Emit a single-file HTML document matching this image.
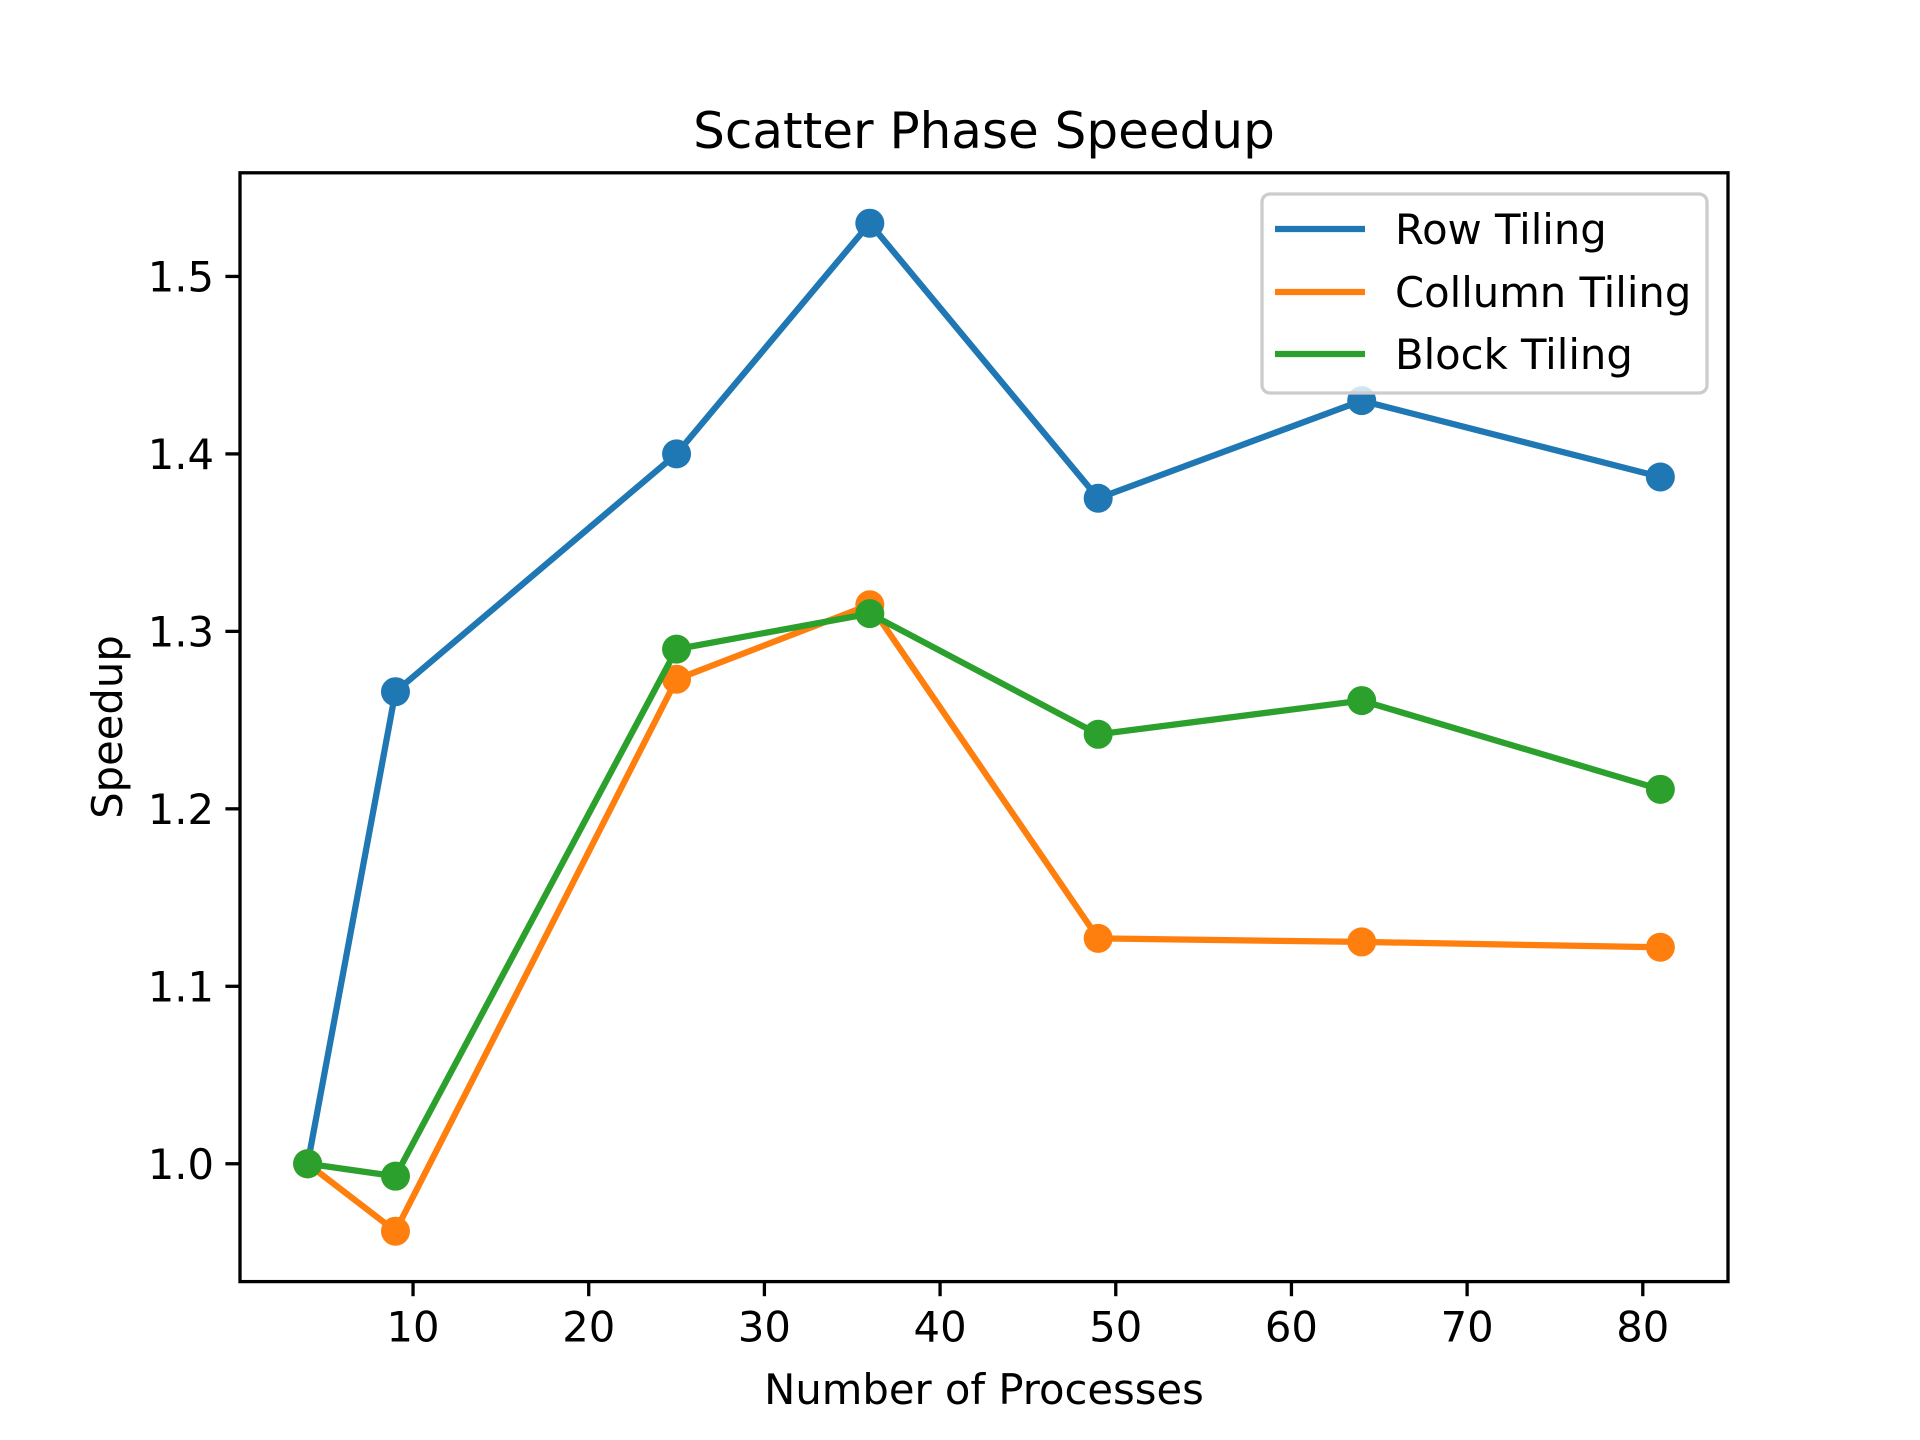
<!DOCTYPE html>
<html><head><meta charset="utf-8"><style>
html,body{margin:0;padding:0;background:#fff;}
svg{display:block;font-family:"DejaVu Sans","Liberation Sans",sans-serif;}
</style></head><body>
<svg id="chart" width="1920" height="1440" viewBox="0 0 1920 1440" xmlns="http://www.w3.org/2000/svg">
<rect width="1920" height="1440" fill="#fff"/>
<text x="984" y="148" font-size="50" text-anchor="middle">Scatter Phase Speedup</text>
<g id="plot"></g>
<rect x="240" y="172.8" width="1488" height="1108.8" fill="none" stroke="#000" stroke-width="3.3"/>
<text x="984" y="1404" font-size="41.7" text-anchor="middle">Number of Processes</text>
<text x="0" y="0" font-size="41.7" text-anchor="middle" transform="translate(122,727) rotate(-90)">Speedup</text>
<g>
<rect x="1262" y="194" width="445" height="199" rx="8" fill="#fff" fill-opacity="0.8" stroke="#ccc" stroke-width="3.3"/>
<line x1="1275" y1="229" x2="1365" y2="229" stroke="#1f77b4" stroke-width="6.25"/>
<text x="1395" y="244" font-size="41.7">Row Tiling</text>
<line x1="1275" y1="292" x2="1365" y2="292" stroke="#ff7f0e" stroke-width="6.25"/>
<text x="1395" y="307" font-size="41.7">Collumn Tiling</text>
<line x1="1275" y1="354" x2="1365" y2="354" stroke="#2ca02c" stroke-width="6.25"/>
<text x="1395" y="369" font-size="41.7">Block Tiling</text>
</g>
</svg>
<script>
const processes = [4, 9, 25, 36, 49, 64, 81];
const rowTiling = [1.0, 1.266, 1.40, 1.53, 1.375, 1.43, 1.387];
const columnTiling = [1.0, 0.962, 1.273, 1.315, 1.127, 1.125, 1.122];
const blockTiling = [1.0, 0.993, 1.29, 1.31, 1.242, 1.261, 1.211];
const xTicks = [10, 20, 30, 40, 50, 60, 70, 80];
const yTicks = [1.0, 1.1, 1.2, 1.3, 1.4, 1.5];

const NS = "http://www.w3.org/2000/svg";
const L = 240, R = 1728, T = 172.8, B = 1281.6;
const xmn0 = Math.min(...processes), xmx0 = Math.max(...processes);
const xpad = (xmx0 - xmn0) * 0.05;
const xmin = xmn0 - xpad, xmax = xmx0 + xpad;
const allY = rowTiling.concat(columnTiling, blockTiling);
const ymn0 = Math.min(...allY), ymx0 = Math.max(...allY);
const ypad = (ymx0 - ymn0) * 0.05;
const ymin = ymn0 - ypad, ymax = ymx0 + ypad;
function sx(v){ return L + (v - xmin) / (xmax - xmin) * (R - L); }
function sy(v){ return B - (v - ymin) / (ymax - ymin) * (B - T); }
const svg = document.getElementById('chart');
const plot = document.getElementById('plot');
function mk(tag, attrs, parent){
  const e = document.createElementNS(NS, tag);
  for (const k in attrs) e.setAttribute(k, attrs[k]);
  parent.appendChild(e);
  return e;
}
xTicks.forEach(t => {
  const x = sx(t);
  const ln = mk('line', {x1:x, x2:x, y1:B, y2:B+14.6, stroke:'#000', 'stroke-width':3.3}, svg);
  
  
  const tx = mk('text', {x:x, y:B+60, 'font-size':41.7, 'text-anchor':'middle'}, svg);
  tx.textContent = String(t);
  
  
});
yTicks.forEach(t => {
  const y = sy(t);
  const ln = mk('line', {x1:L-14.6, x2:L, y1:y, y2:y, stroke:'#000', 'stroke-width':3.3}, svg);
  
  
  const tx = mk('text', {x:L-26, y:y+15, 'font-size':41.7, 'text-anchor':'end'}, svg);
  tx.textContent = t.toFixed(1);
  
  
});
const series = [
  {name:'row-tiling', vals:rowTiling, color:'#1f77b4'},
  {name:'column-tiling', vals:columnTiling, color:'#ff7f0e'},
  {name:'block-tiling', vals:blockTiling, color:'#2ca02c'}
];
series.forEach(s => {
  const g = mk('g', {}, plot);
  
  
  const pts = processes.map((p, i) => sx(p).toFixed(2) + ',' + sy(s.vals[i]).toFixed(2)).join(' ');
  const pl = mk('polyline', {points:pts, fill:'none', stroke:s.color, 'stroke-width':6.25, 'stroke-linejoin':'round', 'stroke-linecap':'square'}, g);
  
  
  processes.forEach((p, i) => {
    const c = mk('circle', {cx:sx(p), cy:sy(s.vals[i]), r:14.5, fill:s.color}, g);
    
    
  });
});
</script>
</body></html>
